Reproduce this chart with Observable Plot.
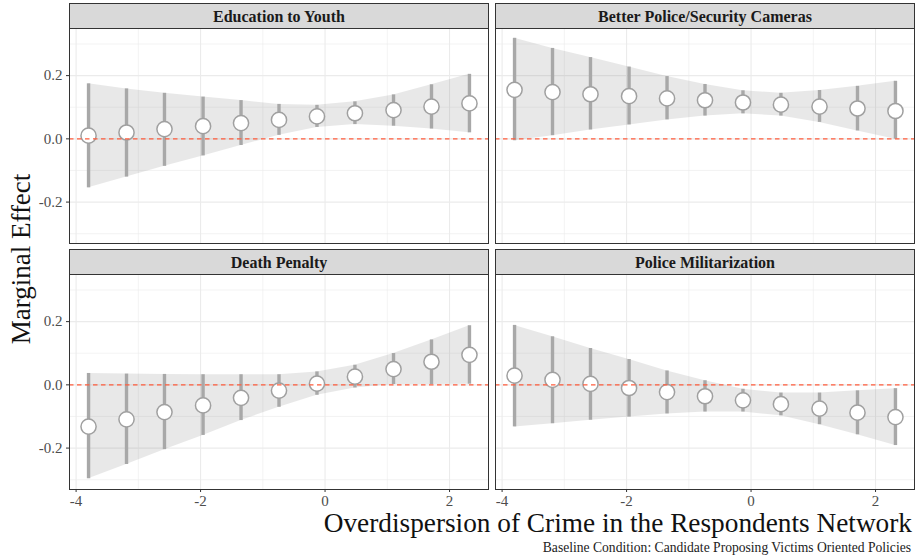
<!DOCTYPE html>
<html><head><meta charset="utf-8">
<script src="https://cdn.jsdelivr.net/npm/d3@7"></script>
<script src="https://cdn.jsdelivr.net/npm/@observablehq/plot@0.6"></script>
<style>
body{margin:0;background:#fff;}
#chart{position:relative;width:919px;height:559px;overflow:hidden;font-family:"Liberation Serif",serif;background:#fff;}
.panel{position:absolute;}
.panel svg{background:transparent !important;overflow:visible;}
.strip{position:absolute;box-sizing:border-box;background:#d9d9d9;border:1px solid #333;font-weight:bold;font-size:16px;color:#1a1a1a;text-align:center;line-height:23px;padding-top:1px;white-space:nowrap;}
</style></head><body><div id="chart"></div><script>
// ---- data ----
const xVals = [-3.80, -3.19, -2.58, -1.96, -1.35, -0.74, -0.13, 0.48, 1.10, 1.71, 2.32];
const policies = ["Education to Youth", "Better Police/Security Cameras", "Death Penalty", "Police Militarization"];

const estEducation = [0.010, 0.020, 0.031, 0.040, 0.050, 0.060, 0.071, 0.081, 0.091, 0.102, 0.112];
const loEducation  = [-0.155, -0.121, -0.087, -0.054, -0.021, 0.011, 0.036, 0.045, 0.040, 0.031, 0.019];
const hiEducation  = [0.174, 0.158, 0.144, 0.132, 0.121, 0.109, 0.106, 0.117, 0.139, 0.171, 0.204];

const estCameras = [0.155, 0.148, 0.141, 0.135, 0.128, 0.122, 0.115, 0.108, 0.102, 0.096, 0.088];
const loCameras  = [-0.006, 0.010, 0.028, 0.044, 0.060, 0.072, 0.079, 0.072, 0.052, 0.025, -0.001];
const hiCameras  = [0.318, 0.286, 0.257, 0.227, 0.197, 0.172, 0.152, 0.144, 0.153, 0.166, 0.182];

const estDeath = [-0.132, -0.109, -0.086, -0.065, -0.041, -0.018, 0.004, 0.026, 0.050, 0.073, 0.095];
const loDeath  = [-0.297, -0.252, -0.205, -0.160, -0.113, -0.071, -0.033, -0.010, 0.001, 0.001, 0.002];
const hiDeath  = [0.036, 0.034, 0.033, 0.032, 0.032, 0.032, 0.041, 0.062, 0.099, 0.142, 0.187];

const estMilitar = [0.029, 0.016, 0.003, -0.010, -0.023, -0.036, -0.049, -0.061, -0.075, -0.088, -0.102];
const loMilitar  = [-0.133, -0.123, -0.112, -0.102, -0.092, -0.086, -0.086, -0.098, -0.126, -0.158, -0.192];
const hiMilitar  = [0.188, 0.152, 0.115, 0.080, 0.044, 0.013, -0.014, -0.026, -0.026, -0.019, -0.012];

const xMajor = [-4, -2, 0, 2];
const xMinor = [-3, -1, 1];
const yMajor = [-0.2, 0, 0.2];
const yMinor = [-0.3, -0.1, 0.1, 0.3];

const xTitle = "Overdispersion of Crime in the Respondents Network";
const yTitle = "Marginal Effect";
const caption = "Baseline Condition: Candidate Proposing Victims Oriented Policies";

// ---- build table ----
const series = [
  [estEducation, loEducation, hiEducation],
  [estCameras, loCameras, hiCameras],
  [estDeath, loDeath, hiDeath],
  [estMilitar, loMilitar, hiMilitar]
];
const tables = series.map(([e, l, h], k) => xVals.map((x, i) => ({policy: policies[k], x, est: e[i], lo: l[i], hi: h[i]})));

const chart = document.getElementById("chart");
const FONT = "Liberation Serif, serif";

const layout = [
  {left: 0,   top: 24,  width: 492, height: 223, mL: 69, mR: 4, mT: 4, mB: 4,  col: 0, row: 0},
  {left: 491, top: 24,  width: 428, height: 223, mL: 4,  mR: 5, mT: 4, mB: 4,  col: 1, row: 0},
  {left: 0,   top: 270, width: 492, height: 254, mL: 69, mR: 4, mT: 4, mB: 35, col: 0, row: 1},
  {left: 491, top: 270, width: 428, height: 254, mL: 4,  mR: 5, mT: 4, mB: 35, col: 1, row: 1}
];

tables.forEach((data, k) => {
  const L = layout[k];
  const marks = [
    Plot.gridX(xMinor, {stroke: "#ebebeb", strokeOpacity: 1, strokeWidth: 0.6}),
    Plot.gridY(yMinor, {stroke: "#ebebeb", strokeOpacity: 1, strokeWidth: 0.6}),
    Plot.gridX(xMajor, {stroke: "#ebebeb", strokeOpacity: 1, strokeWidth: 1.1}),
    Plot.gridY(yMajor, {stroke: "#ebebeb", strokeOpacity: 1, strokeWidth: 1.1}),
    Plot.areaY(data, {x: "x", y1: "lo", y2: "hi", fill: "#808080", fillOpacity: 0.18}),
    Plot.ruleX(data, {x: "x", y1: "lo", y2: "hi", stroke: "#a8a8a8", strokeWidth: 3.4}),
    Plot.dot(data, {x: "x", y: "est", r: 7.6, fill: "white", stroke: "#a0a0a0", strokeWidth: 1.5}),
    Plot.ruleY([0], {stroke: "#ff5c3d", strokeWidth: 1.2, strokeDasharray: "4.5,3.5"}),
    Plot.frame({stroke: "#333", strokeWidth: 1})
  ];
  if (L.row === 1) marks.push(Plot.axisX(xMajor, {tickSize: 3, tickPadding: 3, tickFormat: d => String(d), fontSize: 15, color: "#4d4d4d", stroke: "#333", label: null}));
  if (L.col === 0) marks.push(Plot.axisY(yMajor, {tickSize: 3, tickPadding: 4, tickFormat: d => d.toFixed(1), fontSize: 15, color: "#4d4d4d", stroke: "#333", label: null}));
  const svg = Plot.plot({
    width: L.width, height: L.height,
    marginLeft: L.mL, marginRight: L.mR, marginTop: L.mT, marginBottom: L.mB,
    style: {fontFamily: FONT, background: "transparent", overflow: "visible", color: "#4d4d4d"},
    x: {domain: [-4.106, 2.626], axis: null},
    y: {domain: [-0.331, 0.349], axis: null},
    marks
  });
  const wrap = document.createElement("div");
  wrap.className = "panel";
  wrap.style.left = L.left + "px";
  wrap.style.top = L.top + "px";
  wrap.appendChild(svg);
  chart.appendChild(wrap);

  const strip = document.createElement("div");
  strip.className = "strip";
  strip.textContent = policies[k];
  const px0 = L.left + L.mL, px1 = L.left + L.width - L.mR;
  strip.style.left = px0 + "px";
  strip.style.width = (px1 - px0 + 1) + "px";
  strip.style.top = (L.row === 0 ? 3 : 249) + "px";
  strip.style.height = "26px";
  chart.appendChild(strip);
});

// titles overlay
const ov = d3.select(chart).append("svg")
  .attr("width", 919).attr("height", 559)
  .style("position", "absolute").style("left", 0).style("top", 0)
  .style("pointer-events", "none").style("font-family", FONT);
ov.append("text").attr("transform", "translate(29.5,259) rotate(-90)")
  .attr("text-anchor", "middle").attr("font-size", 27).attr("fill", "#111").text(yTitle);
ov.append("text").attr("x", 912).attr("y", 532)
  .attr("text-anchor", "end").attr("font-size", 27.3).attr("fill", "#111").text(xTitle);
ov.append("text").attr("x", 911).attr("y", 552)
  .attr("text-anchor", "end").attr("font-size", 13.6).attr("fill", "#222").text(caption);
</script></body></html>
